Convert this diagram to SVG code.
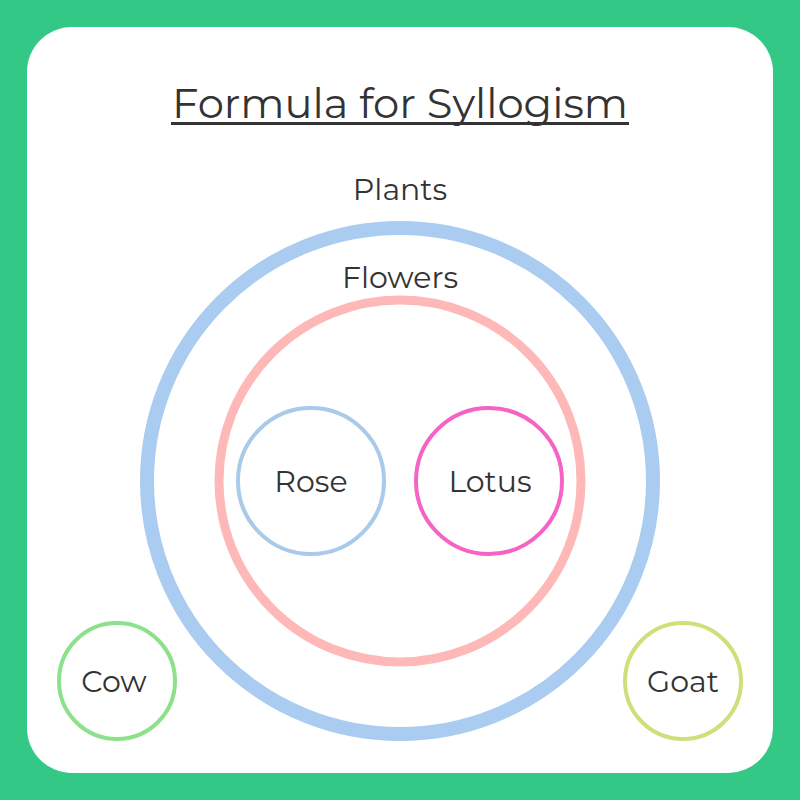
<svg xmlns="http://www.w3.org/2000/svg" width="800" height="800" viewBox="0 0 800 800">
<style>
text{font-family:"Montserrat","Inter","Noto Sans",sans-serif;fill:#333;text-anchor:middle}
.lbl{font-size:30px}
circle{fill:none}
</style>
<rect x="0" y="0" width="800" height="800" fill="#34C886"/>
<rect x="27" y="27" width="746" height="746" rx="45" fill="#fff"/>
<g id="title"><text x="400" y="118" style="font-size:42px" textLength="456" lengthAdjust="spacingAndGlyphs">Formula for Syllogism</text>
<rect x="171" y="122" width="458" height="3" fill="#333"/></g>
<g id="plants"><circle cx="400" cy="481" r="253" stroke="#AACCF0" stroke-width="14"/><text class="lbl" x="400" y="200">Plants</text></g>
<g id="flowers"><circle cx="400" cy="481" r="181" stroke="#FFB8B8" stroke-width="9"/><text class="lbl" x="400" y="288">Flowers</text></g>
<g id="rose"><circle cx="311" cy="481" r="73" stroke="#AACAEA" stroke-width="4"/><text class="lbl" x="311" y="492">Rose</text></g>
<g id="lotus"><circle cx="489" cy="481" r="73" stroke="#F564C4" stroke-width="4"/><text class="lbl" x="490" y="492">Lotus</text></g>
<g id="cow"><circle cx="117" cy="681" r="58" stroke="#8DE08C" stroke-width="4"/><text class="lbl" x="114" y="692">Cow</text></g>
<g id="goat"><circle cx="683" cy="681" r="58" stroke="#CDE07A" stroke-width="4"/><text class="lbl" x="683" y="692">Goat</text></g>
<g id="connectors"/>
</svg>
